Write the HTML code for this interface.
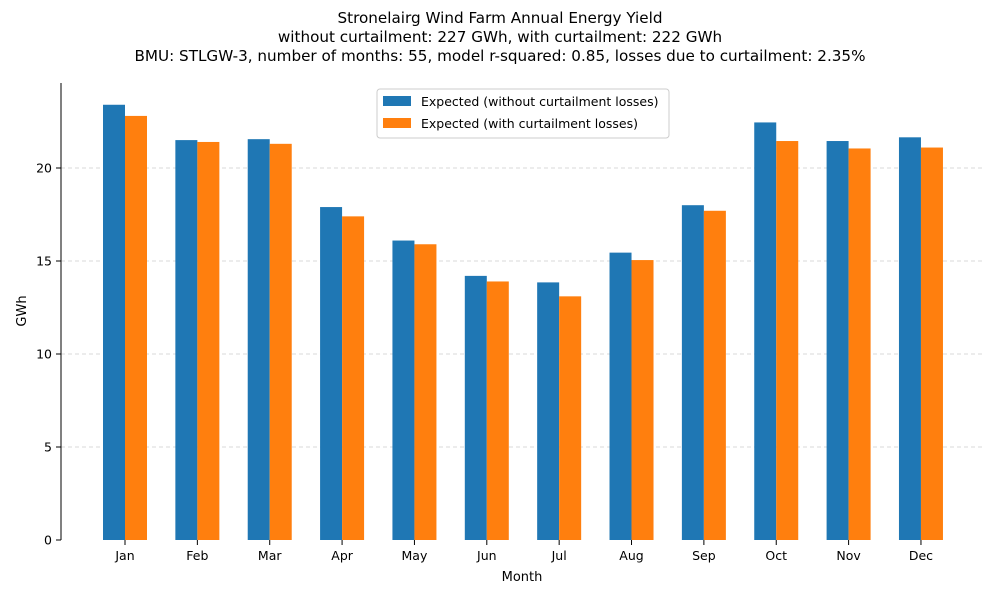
<!DOCTYPE html>
<html><head><meta charset="utf-8"><style>
body{margin:0;background:#fff;}
svg text{font-family:"DejaVu Sans","Liberation Sans",sans-serif;fill:#000;}
</style></head><body>
<svg id="chart" width="1000" height="600">
<g font-size="15.2" text-anchor="middle">
<text x="500" y="23">Stronelairg Wind Farm Annual Energy Yield</text>
<text x="500" y="42">without curtailment: 227 GWh, with curtailment: 222 GWh</text>
<text x="500" y="61">BMU: STLGW-3, number of months: 55, model r-squared: 0.85, losses due to curtailment: 2.35%</text>
</g>
<g id="grid"></g><g id="bars"></g><g id="axes"></g>
<text x="522" y="581" font-size="13" text-anchor="middle">Month</text>
<text transform="translate(26,311) rotate(-90)" font-size="13" text-anchor="middle">GWh</text>
<g>
<rect x="377" y="89" width="292" height="49" fill="#fff" stroke="#ccc" rx="3"/>
<rect x="383" y="96" width="28" height="10" fill="#1f77b4"/>
<text x="421" y="106" font-size="12.5">Expected (without curtailment losses)</text>
<rect x="383" y="118" width="28" height="10" fill="#ff7f0e"/>
<text x="421" y="128" font-size="12.5">Expected (with curtailment losses)</text>
</g>
</svg>
<script>
const months=["Jan","Feb","Mar","Apr","May","Jun","Jul","Aug","Sep","Oct","Nov","Dec"];
const withoutCurtailment=[23.4,21.5,21.55,17.9,16.1,14.2,13.85,15.45,18.0,22.45,21.45,21.65];
const withCurtailment=[22.8,21.4,21.3,17.4,15.9,13.9,13.1,15.05,17.7,21.45,21.05,21.1];
const yTicks=[0,5,10,15,20];
const NS="http://www.w3.org/2000/svg";
const y=v=>540-v*18.6;
const x=i=>125+i*72.36;
function mk(tag,attrs,parent,txt){const e=document.createElementNS(NS,tag);for(const k in attrs)e.setAttribute(k,attrs[k]);if(txt!==undefined)e.textContent=txt;parent.appendChild(e);return e;}
const grid=document.getElementById('grid'),bars=document.getElementById('bars'),axes=document.getElementById('axes');
yTicks.forEach(t=>{
 if(t>0){const g=mk('line',{x1:61,x2:985,y1:y(t),y2:y(t),stroke:'#ccc','stroke-dasharray':'4,3','stroke-width':0.8},grid);
 
 }
 mk('line',{x1:56,x2:61,y1:y(t),y2:y(t),stroke:'#000'},axes);
 const l=mk('text',{x:52,y:y(t)+4.5,'font-size':12.5,'text-anchor':'end'},axes,t);
 
 
});
mk('line',{x1:61,x2:61,y1:83,y2:540,stroke:'#000'},axes);
months.forEach((m,i)=>{
 const b=mk('rect',{x:x(i)-22,y:y(withoutCurtailment[i]),width:22,height:540-y(withoutCurtailment[i]),fill:'#1f77b4'},bars);
 
 
 const o=mk('rect',{x:x(i),y:y(withCurtailment[i]),width:22,height:540-y(withCurtailment[i]),fill:'#ff7f0e'},bars);
 
 
 mk('line',{x1:x(i),x2:x(i),y1:540,y2:545,stroke:'#000'},axes);
 const t=mk('text',{x:x(i),y:560,'font-size':12.5,'text-anchor':'middle'},axes,m);
 
 
});
</script>
</body></html>
